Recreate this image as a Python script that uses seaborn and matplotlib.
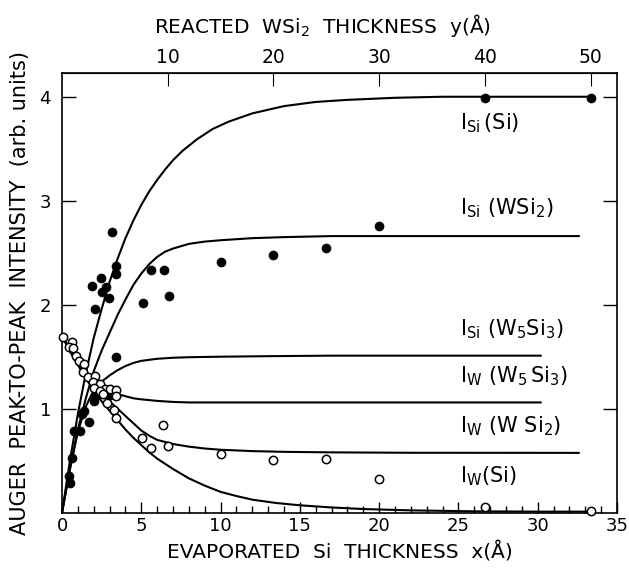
import matplotlib
matplotlib.use("Agg")
import matplotlib.pyplot as plt
import seaborn as sns

# measured points: filled = Si Auger signal, open = W Auger signal
si_x = [0.42, 0.50, 0.65, 0.75, 1.13, 1.25, 1.38, 1.67, 2.00, 2.10, 3.01,
        1.90, 2.43, 2.80, 2.55, 2.97, 2.05, 3.18, 3.43, 3.39, 3.39,
        5.10, 5.63, 6.42, 6.73, 10.0, 13.33, 16.67, 20.0, 26.67, 33.33]
si_y = [0.35, 0.29, 0.53, 0.79, 0.79, 0.95, 0.98, 0.875, 1.07, 1.12, 1.13,
        2.18, 2.26, 2.17, 2.12, 2.06, 1.96, 2.70, 2.37, 2.30, 1.50,
        2.02, 2.33, 2.33, 2.08, 2.41, 2.48, 2.55, 2.76, 3.99, 3.99]

w_x = [0.04, 0.63, 0.44, 0.71, 0.88, 1.07, 1.40, 1.30, 1.65, 2.11, 1.97,
       2.38, 2.03, 2.70, 3.05, 3.39, 2.38, 2.59, 3.43, 2.86, 3.26, 3.39,
       5.04, 5.63, 6.36, 6.71, 10.0, 13.33, 16.67, 20.0, 26.67, 33.33]
w_y = [1.69, 1.64, 1.59, 1.58, 1.51, 1.46, 1.43, 1.35, 1.30, 1.31, 1.26,
       1.24, 1.20, 1.19, 1.19, 1.18, 1.17, 1.14, 1.12, 1.05, 0.99, 0.91,
       0.72, 0.62, 0.84, 0.64, 0.56, 0.51, 0.52, 0.32, 0.05, 0.015]

# model curves
isi_si_x = [0, 0.5, 1, 1.5, 2, 2.5, 3, 3.5, 4, 4.5, 5, 5.5, 6, 6.5, 7, 7.6, 8.5,
            9.5, 10.5, 12, 14, 16, 18, 21, 24, 28, 33.33]
isi_si_y = [0, 0.5, 0.95, 1.34, 1.68, 1.96, 2.22, 2.44, 2.64, 2.81, 2.96, 3.09,
            3.2, 3.3, 3.39, 3.48, 3.59, 3.69, 3.76, 3.84, 3.91, 3.95, 3.97,
            3.99, 4.0, 4.0, 4.0]

isi_wsi2_x = [0, 0.5, 1, 1.5, 2, 2.5, 3, 3.5, 4, 4.5, 5, 5.5, 6, 6.5, 7, 8, 9,
              10, 12, 14, 17, 21, 26, 32.6]
isi_wsi2_y = [0, 0.42, 0.8, 1.1, 1.36, 1.56, 1.73, 1.9, 2.05, 2.19, 2.3, 2.39,
              2.46, 2.51, 2.54, 2.585, 2.607, 2.62, 2.64, 2.65, 2.66, 2.66, 2.66, 2.66]

isi_w5si3_x = [0, 0.5, 1, 1.5, 2, 2.5, 3, 3.5, 4, 4.5, 5, 6, 7, 8, 10, 13, 17, 30.2]
isi_w5si3_y = [0, 0.42, 0.78, 1.02, 1.18, 1.26, 1.32, 1.37, 1.41, 1.44, 1.46,
               1.48, 1.49, 1.495, 1.5, 1.505, 1.51, 1.51]

iw_w5si3_x = [0, 0.5, 1, 1.5, 2, 2.5, 3, 3.5, 4, 4.5, 5, 6, 7, 8, 10, 15, 20, 30.2]
iw_w5si3_y = [1.7, 1.57, 1.45, 1.35, 1.27, 1.21, 1.17, 1.14, 1.12, 1.1, 1.09,
              1.075, 1.065, 1.06, 1.06, 1.06, 1.06, 1.06]

iw_wsi2_x = [0, 0.5, 1, 1.5, 2, 2.5, 3, 3.5, 4, 4.5, 5, 5.5, 6, 7, 8, 9, 10,
             12, 14, 17, 22, 32.6]
iw_wsi2_y = [1.7, 1.56, 1.43, 1.32, 1.22, 1.14, 1.07, 1.0, 0.93, 0.86, 0.79,
             0.74, 0.7, 0.66, 0.635, 0.617, 0.605, 0.592, 0.585, 0.58, 0.576, 0.575]

iw_si_x = [0, 0.5, 1, 1.5, 2, 2.5, 3, 3.5, 4, 4.5, 5, 5.5, 6, 7, 8, 9, 10, 11,
           12, 13.5, 15, 17, 19, 22, 26, 30, 33.3]
iw_si_y = [1.7, 1.55, 1.42, 1.29, 1.18, 1.07, 0.98, 0.89, 0.8, 0.72, 0.65, 0.58,
           0.52, 0.42, 0.33, 0.26, 0.2, 0.16, 0.125, 0.093, 0.071, 0.05, 0.035,
           0.022, 0.013, 0.01, 0.01]

curve_labels = [r'$\mathregular{I_{Si}\,(Si)}$', r'$\mathregular{I_{Si}\ (WSi_2)}$',
                r'$\mathregular{I_{Si}\ (W_5Si_3)}$', r'$\mathregular{I_W\ (W_5\,Si_3)}$',
                r'$\mathregular{I_W\ (W\ Si_2)}$', r'$\mathregular{I_W(Si)}$']
label_y = [3.75, 2.93, 1.76, 1.31, 0.83, 0.35]

x_ticks = [0, 5, 10, 15, 20, 25, 30, 35]
y_ticks = [1, 2, 3, 4]
top_ticks = [10, 20, 30, 40, 50]

sns.set_style("ticks")
plt.rcParams['font.family'] = ['DejaVu Sans']
plt.rcParams['mathtext.fontset'] = 'dejavusans'
for key in ['text.color', 'axes.labelcolor', 'xtick.color', 'ytick.color',
            'axes.edgecolor']:
    plt.rcParams[key] = 'black'

fig = plt.figure(figsize=(6.29, 5.69), dpi=100)
ax = fig.add_axes([0.0986, 0.099, 0.8824, 0.773])

curves = [(isi_si_x, isi_si_y), (isi_wsi2_x, isi_wsi2_y), (isi_w5si3_x, isi_w5si3_y),
          (iw_w5si3_x, iw_w5si3_y), (iw_wsi2_x, iw_wsi2_y), (iw_si_x, iw_si_y)]
for cx, cy in curves:
    sns.lineplot(x=cx, y=cy, ax=ax, color='black', linewidth=1.5,
                 sort=False, estimator=None, clip_on=False,
                 solid_joinstyle='round')

sns.scatterplot(x=si_x, y=si_y, ax=ax, color='black', s=42, marker='o',
                edgecolor='black', linewidth=0.5, clip_on=False, zorder=5)
sns.scatterplot(x=w_x, y=w_y, ax=ax, facecolor='white', s=36, marker='o',
                edgecolor='black', linewidth=1.1, clip_on=False, zorder=6)

for lab, ly in zip(curve_labels, label_y):
    ax.text(25.1, ly, lab, fontsize=15, ha='left', va='center')

ax.set_xlim(0, 35)
ax.set_ylim(0, 4.23)
ax.set_xticks(x_ticks)
ax.set_xticks(range(0, 36), minor=True)
ax.set_yticks(y_ticks)
ax.tick_params(axis='both', which='both', direction='in', labelsize=13,
               top=False, right=True, width=1)
ax.tick_params(axis='x', which='major', length=8, pad=3)
ax.tick_params(axis='x', which='minor', length=5)
ax.tick_params(axis='y', which='major', length=10, pad=8)
for sp in ax.spines.values():
    sp.set_linewidth(1.2)

top = ax.secondary_xaxis('top', functions=(lambda v: v * 1.5, lambda v: v / 1.5))
top.set_xticks(top_ticks)
top.tick_params(direction='in', length=9, labelsize=13.5, pad=4)
fig.text(0.512, 0.955, r'REACTED  WSi$\mathregular{_2}$  THICKNESS  y(Å)',
         fontsize=14.5, ha='center', va='center')

ax.set_xlabel('EVAPORATED  Si  THICKNESS  x(Å)', fontsize=14.5, labelpad=5)
ax.set_ylabel('AUGER  PEAK-TO-PEAK  INTENSITY  (arb. units)', fontsize=15,
              labelpad=7)

fig.savefig('out.png', dpi=100)
